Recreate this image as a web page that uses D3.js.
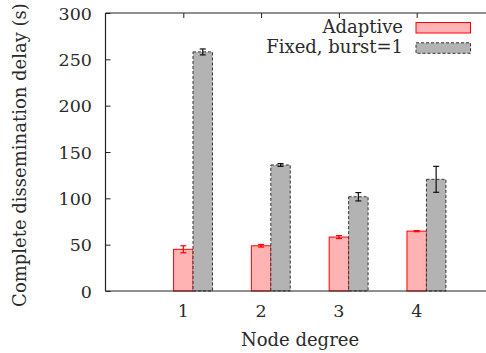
<!DOCTYPE html>
<html><head><meta charset="utf-8">
<script src="https://cdn.jsdelivr.net/npm/d3@7"></script>
<style>body{margin:0;background:#fff}svg{display:block}</style>
</head><body>
<script>
const categories = [1, 2, 3, 4];
const adaptive = [45, 48.8, 58.2, 64.6];
const adaptiveErr = [3.8, 1.4, 1.6, 0.6];
const fixed = [258, 136, 101.7, 120.5];
const fixedErr = [3.2, 1.5, 4.5, 14];
const yTicks = [0, 50, 100, 150, 200, 250, 300];
const seriesNames = ["Adaptive", "Fixed, burst=1"];

const FONT = "'DejaVu Serif', serif";
const FS = 18, TFS = 17.5;
const W = 486, H = 353;
const m = {l: 105.5, t: 13, r: 494.5, b: 291};
const svg = d3.select("body").append("svg").attr("width", W).attr("height", H)
  .attr("font-family", FONT).attr("fill", "#2a2a2a");
const x = d3.scaleLinear().domain([0, 5]).range([m.l, m.r]);
const y = d3.scaleLinear().domain([0, 300]).range([m.b, m.t]);
const bw = x(0.25) - x(0);

// ticks (inward)
const g = svg.append("g");
g.append("g").attr("transform", `translate(${m.l},0)`)
  .call(d3.axisRight(y).tickValues(yTicks).tickSize(5).tickFormat(""))
  .call(s => s.select(".domain").remove())
  .selectAll("line").attr("stroke", "#222");
g.append("g").attr("transform", `translate(0,${m.t})`)
  .call(d3.axisBottom(x).tickValues(categories).tickSize(5).tickFormat(""))
  .call(s => s.select(".domain").remove())
  .selectAll("line").attr("stroke", "#222");
g.append("g").attr("transform", `translate(0,${m.b})`)
  .call(d3.axisTop(x).tickValues(categories).tickSize(5).tickFormat(""))
  .call(s => s.select(".domain").remove())
  .selectAll("line").attr("stroke", "#222");

// tick labels
svg.append("g").selectAll("text").data(yTicks).join("text")
  .attr("x", 92).attr("y", d => y(d) + 6.5).attr("text-anchor", "end")
  .attr("font-size", TFS).attr("font-family", FONT).text(d => d);
svg.append("g").selectAll("text").data(categories).join("text")
  .attr("x", d => x(d)).attr("y", 317).attr("text-anchor", "middle")
  .attr("font-size", TFS).attr("font-family", FONT).text(d => d);

// bars
const bars = svg.append("g");
bars.selectAll("rect.a").data(categories).join("rect")
  .attr("x", (d) => x(d) - bw / 2).attr("width", bw)
  .attr("y", (d, i) => y(adaptive[i])).attr("height", (d, i) => y(0) - y(adaptive[i]))
  .attr("fill", "#ffb3b3").attr("stroke", "#ff0000").attr("stroke-width", 1);
bars.selectAll("rect.f").data(categories).join("rect")
  .attr("x", (d) => x(d) + bw / 2).attr("width", bw)
  .attr("y", (d, i) => y(fixed[i])).attr("height", (d, i) => y(0) - y(fixed[i]))
  .attr("fill", "#b3b3b3").attr("stroke", "#333").attr("stroke-width", 1).attr("stroke-dasharray", "3,2");

// error bars
function err(vals, errs, off, col) {
  const eg = svg.append("g").attr("stroke", col).attr("stroke-width", 1.2);
  categories.forEach((c, i) => {
    const cx = x(c + off);
    eg.append("line").attr("x1", cx).attr("x2", cx).attr("y1", y(vals[i] - errs[i])).attr("y2", y(vals[i] + errs[i]));
    [vals[i] - errs[i], vals[i] + errs[i]].forEach(v => {
      eg.append("line").attr("x1", cx - 3).attr("x2", cx + 3).attr("y1", y(v)).attr("y2", y(v));
    });
  });
}
err(adaptive, adaptiveErr, 0, "#ff0000");
err(fixed, fixedErr, 0.25, "#111");

// frame
svg.append("line").attr("x1", m.l).attr("x2", W).attr("y1", m.t).attr("y2", m.t).attr("stroke", "#222").attr("stroke-width", 1.2);
svg.append("line").attr("x1", m.l).attr("x2", W).attr("y1", m.b).attr("y2", m.b).attr("stroke", "#222").attr("stroke-width", 1.2);
svg.append("line").attr("x1", m.l).attr("x2", m.l).attr("y1", m.t).attr("y2", m.b).attr("stroke", "#222").attr("stroke-width", 1.2);

// legend
const leg = svg.append("g");
seriesNames.forEach((n, i) => {
  const yy = 22.5 + i * 20.3;
  leg.append("text").attr("x", 403).attr("y", yy + 10.5).attr("text-anchor", "end")
    .attr("font-size", FS).attr("font-family", FONT).text(n);
  const r = leg.append("rect").attr("x", 416).attr("y", yy).attr("width", 54.5).attr("height", 10.5);
  if (i === 0) r.attr("fill", "#ffb3b3").attr("stroke", "#ff0000");
  else r.attr("fill", "#b3b3b3").attr("stroke", "#333").attr("stroke-dasharray", "3,2");
});

// axis titles
svg.append("text").attr("x", 300).attr("y", 346).attr("text-anchor", "middle")
  .attr("font-size", FS).attr("font-family", FONT).text("Node degree");
svg.append("text").attr("transform", "translate(26,155) rotate(-90)").attr("text-anchor", "middle")
  .attr("font-size", FS).attr("font-family", FONT).text("Complete dissemination delay (s)");
</script>
</body></html>
